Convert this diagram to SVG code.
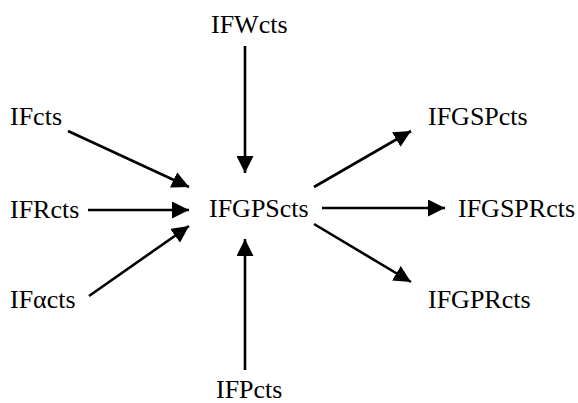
<svg xmlns="http://www.w3.org/2000/svg" width="578" height="403" viewBox="0 0 578 403">
<style>
text { font-size: 26px; fill: #000; }
.c line { stroke: #000; stroke-width: 2.6; marker-end: url(#ah); }
</style>
<defs>
<marker id="ah" markerUnits="userSpaceOnUse" markerWidth="17" markerHeight="17" refX="16" refY="8" orient="auto" viewBox="0 0 16 16">
<path d="M0,0 L16,8 L0,16 z" fill="#000"/>
</marker>
</defs>
<rect width="578" height="403" fill="#fff"/>
<g font-family="'Liberation Serif', 'Times New Roman', Times, serif">
<g id="n-ifwcts"><text x="211" y="33">IFWcts</text></g>
<g id="n-ifcts"><text x="10" y="125">IFcts</text></g>
<g id="n-ifrcts"><text x="10" y="218">IFRcts</text></g>
<g id="n-ifacts"><text x="10" y="308">IFαcts</text></g>
<g id="n-ifpcts"><text x="216" y="398">IFPcts</text></g>
<g id="n-ifgpscts"><text x="209" y="217">IFGPScts</text></g>
<g id="n-ifgspcts"><text x="428" y="125">IFGSPcts</text></g>
<g id="n-ifgsprcts"><text x="458" y="217">IFGSPRcts</text></g>
<g id="n-ifgprcts"><text x="428" y="308">IFGPRcts</text></g>
</g>
<g class="c" id="connectors">
<line x1="245" y1="46" x2="245" y2="173"/>
<line x1="68" y1="131" x2="189" y2="187"/>
<line x1="88" y1="210" x2="189" y2="210"/>
<line x1="89" y1="296" x2="189" y2="226"/>
<line x1="245" y1="370" x2="245" y2="239"/>
<line x1="314" y1="187" x2="411" y2="131"/>
<line x1="322" y1="208" x2="445" y2="208"/>
<line x1="314" y1="224" x2="411" y2="282"/>
</g>
</svg>
